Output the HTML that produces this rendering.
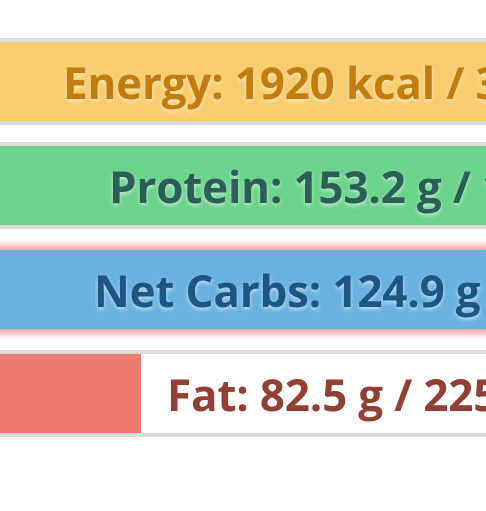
<!DOCTYPE html>
<html><head><meta charset="utf-8"><style>
html,body{margin:0;padding:0;width:486px;height:511px;overflow:hidden;background:#fff;font-family:"Open Sans","Liberation Sans",sans-serif;}
.bar{position:absolute;left:0;width:486px;height:79px;overflow:hidden;}
.track{position:absolute;left:0;width:486px;height:4px;background:#dcdcdc;}
.fill{position:absolute;left:0;top:0;height:100%;}
.lbl{position:absolute;white-space:nowrap;font-weight:bold;font-size:44px;letter-spacing:-0.2px;text-shadow:0 2px 4px rgba(255,255,255,0.6);line-height:1;}
.glow{position:absolute;left:0;width:486px;height:10px;}
</style></head><body>
<div id="chart"></div>
<script>
var labels=["Energy","Protein","Net Carbs","Fat"];
var values=["1920 kcal","153.2 g","124.9 g","82.5 g"];
var goals=["3000 kcal","160 g","100 g","225 g"];
var fills=[1,1,1,0.29];
var fillColors=["#f8cd6f","#6bd38b","#6ab2e0","#ee7b72"];
var textColors=["#c27d0e","#2b5e55","#1d5585","#924035"];
var tops=[42,146,250,354];
var textLefts=[63,109,94,167];
var over=[false,false,true,false];
var root=document.getElementById('chart');
var W=486;
function x(f){return Math.max(0,Math.min(1,f))*W;}
for(var i=0;i<labels.length;i++){
  var t=tops[i];
  if(over[i]){
    var g1=document.createElement('div');g1.className='glow';g1.style.top=(t-10)+'px';
    g1.style.background='linear-gradient(to bottom,rgba(255,160,160,0),#ffa3a3)';
    
    
    root.appendChild(g1);
    var g2=document.createElement('div');g2.className='glow';g2.style.top=(t+79)+'px';
    g2.style.background='linear-gradient(to top,rgba(255,160,160,0),#ffa3a3)';
    
    
    root.appendChild(g2);
  } else {
    var a=document.createElement('div');a.className='track';a.style.top=(t-4)+'px';
    
    
    root.appendChild(a);
    var b=document.createElement('div');b.className='track';b.style.top=(t+79)+'px';
    
    
    root.appendChild(b);
  }
  var bar=document.createElement('div');bar.className='bar';bar.style.top=t+'px';
  
  
  var f=document.createElement('div');f.className='fill';f.style.width=x(fills[i])+'px';f.style.background=fillColors[i];
  
  
  bar.appendChild(f);
  var l=document.createElement('div');l.className='lbl';l.style.left=textLefts[i]+'px';l.style.top='18px';l.style.color=textColors[i];
  l.textContent=labels[i]+': '+values[i]+' / '+goals[i];
  
  
  bar.appendChild(l);
  root.appendChild(bar);
}
</script>
</body></html>
